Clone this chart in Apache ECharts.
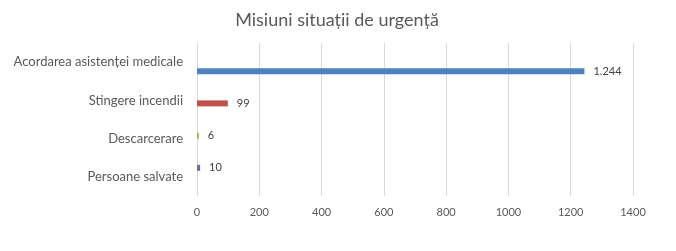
<!DOCTYPE html>
<html>
<head>
<meta charset="utf-8">
<script src="https://cdn.jsdelivr.net/npm/echarts@6/dist/echarts.min.js"></script>
<style>html,body{margin:0;padding:0;background:#fff}#c{width:676px;height:251px}</style>
</head>
<body>
<div id="c"></div>
<script>
const title = 'Misiuni situații de urgență';
const categories = ['Acordarea asistenței medicale', 'Stingere incendii', 'Descarcerare', 'Persoane salvate'];
const values = [1244, 99, 6, 10];
const colors = ['#4f81bd', '#c0504d', '#9bbb59', '#8064a2'];
const xTicks = [0, 200, 400, 600, 800, 1000, 1200, 1400];

const chart = echarts.init(document.getElementById('c'), null, {renderer: 'canvas'});
const fmt = v => String(v).replace(/\B(?=(\d{3})+(?!\d))/g, '.');

// one series per category (clustered layout); order reversed so the first category's bar sits lowest in its band
const series = [];
for (let s = categories.length - 1; s >= 0; s--) {
  series.push({
    type: 'bar',
    name: categories[s],
    data: categories.map((c, i) => i === s ? values[s] : null),
    barWidth: 6,
    barGap: '0%',
    itemStyle: {color: colors[s]},
    label: {
      show: true, position: 'right', distance: 9,
      color: '#404040', fontSize: 11, fontFamily: 'Lato',
      formatter: p => fmt(p.value)
    }
  });
}

chart.setOption({
  animation: false,
  title: {
    text: title, left: 332, top: 6, textAlign: 'center',
    textStyle: {fontFamily: 'Lato', fontSize: 18, fontWeight: 'normal', color: '#595959'}
  },
  grid: {left: 197, right: 43, top: 43, bottom: 55, containLabel: false},
  xAxis: {
    type: 'value', min: 0, max: 1400, interval: 200,
    axisLine: {show: false}, axisTick: {show: false},
    splitLine: {lineStyle: {color: '#d9d9d9', width: 1}},
    axisLabel: {color: '#595959', fontSize: 11, fontFamily: 'Lato', margin: 11,
      formatter: v => xTicks.includes(v) ? String(v) : ''}
  },
  yAxis: {
    type: 'category', data: categories, inverse: true,
    axisLine: {show: false}, axisTick: {show: false},
    axisLabel: {color: '#595959', fontSize: 13, fontFamily: 'Lato', margin: 14}
  },
  series: series
});
</script>
</body>
</html>
